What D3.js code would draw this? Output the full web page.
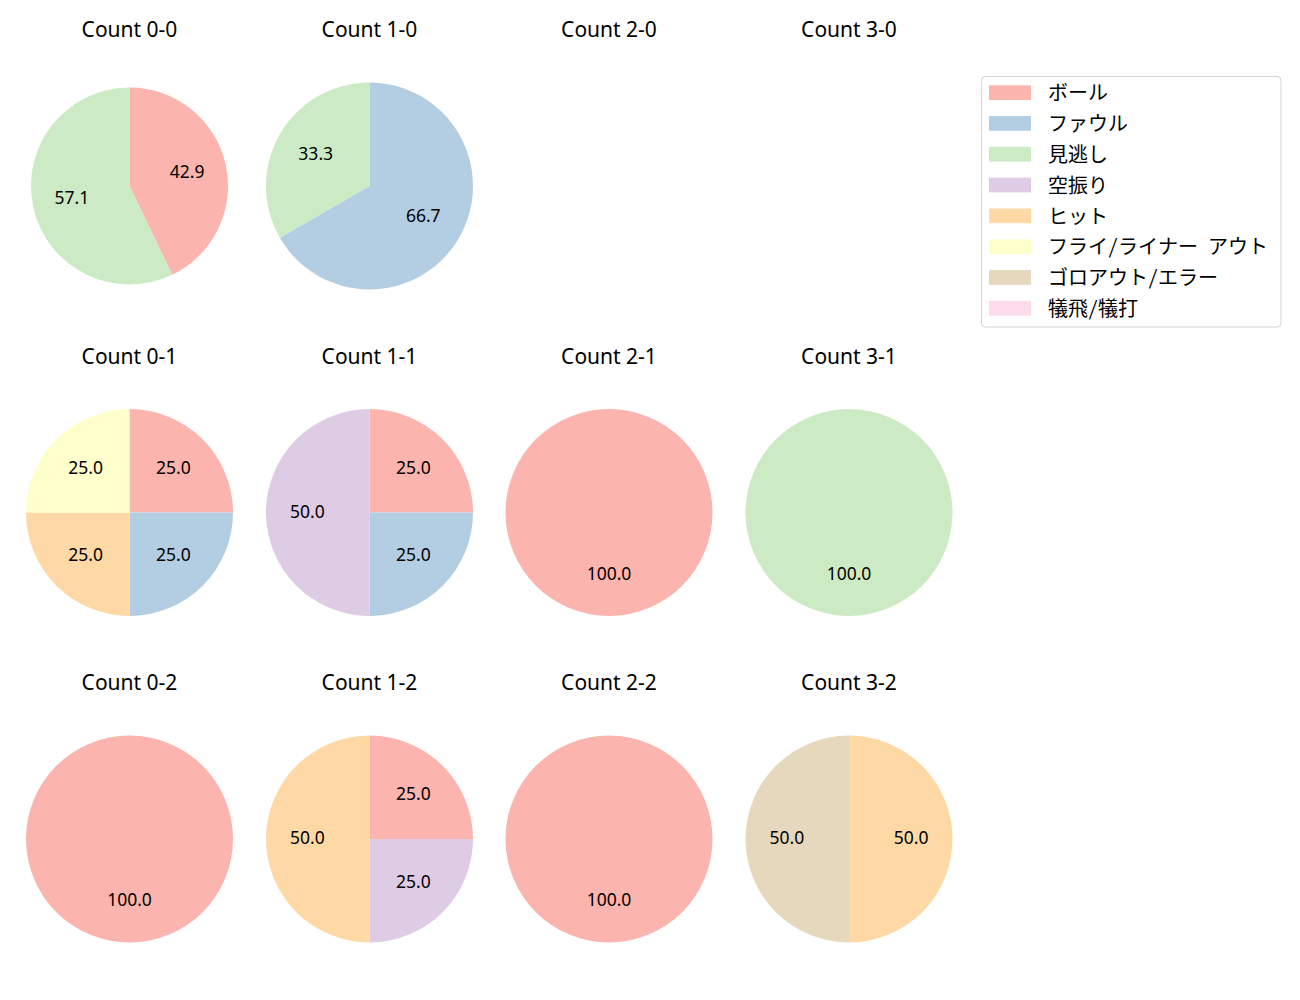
<!DOCTYPE html>
<html><head><meta charset="utf-8">
<script src="https://cdn.jsdelivr.net/npm/d3@7"></script>
<style>body{margin:0;background:#fff}svg{display:block}text{font-family:"Noto Sans","Noto Sans CJK JP",sans-serif}</style>
</head><body><div id="chart"></div>
<script>
const categories = ["ボール","ファウル","見逃し","空振り","ヒット","フライ/ライナー アウト","ゴロアウト/エラー","犠飛/犠打"];
const colors = ["#fbb4ae","#b3cde3","#ccebc5","#decbe4","#fed9a6","#ffffcc","#e5d8bd","#fddaec"];
const countTitles = ["Count 0-0","Count 1-0","Count 2-0","Count 3-0","Count 0-1","Count 1-1","Count 2-1","Count 3-1","Count 0-2","Count 1-2","Count 2-2","Count 3-2"];
// pitch counts per category (order as categories)
const c00 = [3,0,4,0,0,0,0,0];
const c10 = [0,2,1,0,0,0,0,0];
const c20 = [0,0,0,0,0,0,0,0];
const c30 = [0,0,0,0,0,0,0,0];
const c01 = [1,1,0,0,1,1,0,0];
const c11 = [1,1,0,2,0,0,0,0];
const c21 = [1,0,0,0,0,0,0,0];
const c31 = [0,0,1,0,0,0,0,0];
const c02 = [1,0,0,0,0,0,0,0];
const c12 = [1,0,0,1,2,0,0,0];
const c22 = [1,0,0,0,0,0,0,0];
const c32 = [0,0,0,0,1,0,1,0];
const allCounts = [c00,c10,c20,c30,c01,c11,c21,c31,c02,c12,c22,c32];

const W=1300,H=1000;
const svg=d3.select("#chart").append("svg").attr("width",W).attr("height",H);
const colX=[129.5,369.5,609,849];
const rowY=[186,512.5,839];
const titleY=[36.5,363.5,689.5];

const pie=d3.pie().sort(null).value(d=>d.v).startAngle(0).endAngle(2*Math.PI);
allCounts.forEach((vals,i)=>{
  const col=i%4,row=Math.floor(i/4);
  const g=svg.append("g");
  g.append("text").attr("x",colX[col]).attr("y",titleY[row]).attr("text-anchor","middle")
    .attr("font-size",21).attr("fill","#000").text(countTitles[i]);
  const total=d3.sum(vals);
  if(!total) return;
  const r = i===0 ? 98.5 : 103.5;
  const data=vals.map((v,k)=>({v,k})).filter(d=>d.v>0);
  const arcs=pie(data);
  const arc=d3.arc().innerRadius(0).outerRadius(r);
  const pg=g.append("g").attr("transform",`translate(${colX[col]},${rowY[row]})`);
  pg.selectAll("path").data(arcs).join("path").attr("d",arc).attr("fill",d=>colors[d.data.k]);
  pg.selectAll("text").data(arcs).join("text")
    .attr("x",d=>0.6*r*Math.sin((d.startAngle+d.endAngle)/2))
    .attr("y",d=>-0.6*r*Math.cos((d.startAngle+d.endAngle)/2)-2)
    .attr("text-anchor","middle").attr("dominant-baseline","central")
    .attr("font-size",17.5).attr("fill","#000")
    .text(d=>(d.data.v/total*100).toFixed(1));
});

// legend
const lg=svg.append("g");
lg.append("rect").attr("x",981.5).attr("y",76.5).attr("width",299.5).attr("height",250.5)
  .attr("rx",4).attr("fill","#fff").attr("stroke","#d5d5d5").attr("stroke-width",1);
categories.forEach((c,k)=>{
  const y=85.3+k*30.8;
  lg.append("rect").attr("x",989).attr("y",y).attr("width",42).attr("height",14.7).attr("fill",colors[k]);
  lg.append("text").attr("x",1048).attr("y",y+6.5).attr("dominant-baseline","central")
    .style("font-family",'"Noto Sans Mono CJK JP","Noto Sans CJK JP",sans-serif')
    .attr("font-size",20).attr("fill","#000").text(c);
});
</script></body></html>
